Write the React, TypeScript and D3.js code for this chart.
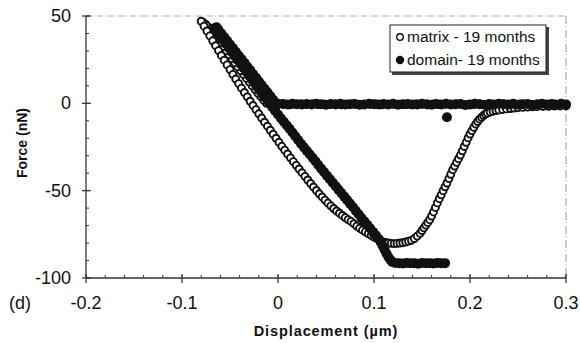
import * as d3 from 'd3';

// matrix - 19 months (open circles): approach baseline, contact rise, retract loop
const matrixX = [
  0.300, 0.294, 0.288, 0.282, 0.276, 0.270, 0.264, 0.258, 0.252, 0.246, 0.240, 0.234, 0.228, 0.222,
  0.216, 0.210, 0.204, 0.198, 0.192, 0.186, 0.180, 0.174, 0.168, 0.162, 0.156, 0.150, 0.144, 0.138,
  0.132, 0.126, 0.120, 0.114, 0.108, 0.102, 0.096, 0.090, 0.084, 0.078, 0.072, 0.066, 0.060, 0.054,
  0.048, 0.042, 0.036, 0.030, 0.024, 0.018, 0.012, 0.006, 0.000, -0.006, -0.012,
  -0.015, -0.018, -0.021, -0.024, -0.027, -0.030, -0.033, -0.036, -0.039, -0.042, -0.045, -0.048,
  -0.051, -0.054, -0.057, -0.060, -0.063, -0.066, -0.069, -0.072, -0.075, -0.078, -0.080,
  -0.077, -0.074, -0.071, -0.068, -0.065, -0.062, -0.059, -0.056, -0.053, -0.050, -0.047, -0.044,
  -0.041, -0.038, -0.035, -0.032, -0.029, -0.026, -0.023, -0.020, -0.017, -0.014, -0.011, -0.008,
  -0.005, -0.002, 0.001, 0.004, 0.007, 0.010, 0.013, 0.016, 0.019, 0.022, 0.025, 0.028, 0.031,
  0.034, 0.037, 0.040, 0.043, 0.046, 0.049, 0.052, 0.055, 0.058, 0.061, 0.064, 0.067, 0.070, 0.073,
  0.076, 0.079, 0.082, 0.085, 0.088, 0.091, 0.094, 0.097, 0.100, 0.103, 0.106, 0.109, 0.112, 0.115,
  0.118, 0.121, 0.124, 0.127, 0.130, 0.133, 0.136, 0.139, 0.142, 0.145, 0.148, 0.150, 0.152, 0.154,
  0.156, 0.158, 0.160, 0.162, 0.164, 0.166, 0.168, 0.170, 0.172, 0.174, 0.176, 0.178, 0.180, 0.182,
  0.184, 0.186, 0.188, 0.190, 0.192, 0.194, 0.196, 0.198, 0.200, 0.202, 0.204, 0.206, 0.208, 0.210,
  0.212, 0.214, 0.216, 0.218, 0.221, 0.224, 0.227, 0.230, 0.234, 0.238, 0.242, 0.246, 0.250, 0.255,
  0.260, 0.265, 0.270, 0.276, 0.282, 0.288, 0.294, 0.300,
];
const matrixY = [
  -0.5, -0.8, -0.3, -0.6, -0.9, -0.4, -0.6, -0.7, -0.3, -0.5, -0.8, -0.4, -0.6, -0.5,
  -0.7, -0.3, -0.6, -0.8, -0.5, -0.4, -0.7, -0.5, -0.6, -0.3, -0.8, -0.5, -0.4, -0.6,
  -0.7, -0.5, -0.3, -0.6, -0.8, -0.4, -0.5, -0.7, -0.6, -0.3, -0.5, -0.8, -0.4, -0.6,
  -0.5, -0.7, -0.4, -0.6, -0.3, -0.5, -0.8, -0.4, -0.6, -0.3, 0.0,
  1.8, 3.9, 5.9, 8.0, 10.1, 12.3, 14.4, 16.6, 18.8, 21.0, 23.3, 25.6,
  27.9, 30.2, 32.5, 34.8, 37.1, 39.4, 41.6, 43.5, 45.1, 46.3, 47.0,
  44.2, 41.4, 38.6, 35.8, 33.0, 30.2, 27.4, 24.7, 22.0, 19.3, 16.6, 13.9,
  11.3, 8.7, 6.2, 3.7, 1.2, -1.2, -3.6, -6.0, -8.4, -10.8, -13.1, -15.4,
  -17.7, -20.0, -22.3, -24.6, -26.8, -29.0, -31.2, -33.4, -35.5, -37.6, -39.7, -41.8, -43.9,
  -45.9, -47.9, -49.9, -51.8, -53.6, -55.4, -57.1, -58.7, -60.2, -61.6, -62.9, -64.2, -65.4, -66.6,
  -67.6, -68.9, -70.3, -71.5, -72.6, -73.6, -74.6, -75.6, -76.6, -77.5, -78.4, -79.3, -79.7, -80.0,
  -80.2, -80.3, -80.2, -80.0, -79.8, -79.4, -78.9, -78.4, -77.4, -76.0, -74.4, -72.8, -71.3, -69.7,
  -68.2, -66.6, -64.5, -62.2, -59.6, -57.0, -54.6, -52.4, -50.0, -47.8, -45.6, -43.1, -40.6, -38.0,
  -35.9, -33.8, -31.7, -29.6, -27.2, -24.7, -22.3, -19.8, -17.6, -15.6, -13.7, -11.9, -10.4, -9.1,
  -8.0, -7.0, -6.2, -5.6, -5.0, -4.5, -4.1, -3.8, -3.5, -3.2, -3.0, -2.7, -2.5, -2.3,
  -2.1, -2.0, -1.9, -1.8, -1.7, -1.6, -1.5, -1.5,
];

// domain - 19 months (filled circles)
const domainX = [
  0.300, 0.295, 0.290, 0.285, 0.280, 0.275, 0.270, 0.265, 0.260, 0.255, 0.250, 0.245, 0.240, 0.235,
  0.230, 0.225, 0.220, 0.215, 0.210, 0.205, 0.200, 0.195, 0.190, 0.185, 0.180, 0.175, 0.170, 0.165,
  0.160, 0.155, 0.150, 0.145, 0.140, 0.135, 0.130, 0.125, 0.120, 0.115, 0.110, 0.105, 0.100, 0.095,
  0.090, 0.085, 0.080, 0.075, 0.070, 0.065, 0.060, 0.055, 0.050, 0.045, 0.040, 0.035, 0.030, 0.025,
  0.020, 0.015, 0.010, 0.005, 0.000, -0.002,
  -0.005, -0.008, -0.011, -0.014, -0.017, -0.020, -0.023, -0.026, -0.029, -0.032, -0.035, -0.038,
  -0.041, -0.044, -0.047, -0.050, -0.053, -0.056, -0.059, -0.062, -0.064, -0.066,
  -0.063, -0.060, -0.057, -0.054, -0.051, -0.048, -0.045, -0.042, -0.039, -0.036, -0.033, -0.030,
  -0.027, -0.024, -0.021, -0.018, -0.015, -0.012, -0.009, -0.006, -0.003, 0.000, 0.003, 0.006,
  0.009, 0.012, 0.015, 0.018, 0.021, 0.024, 0.027, 0.030, 0.033, 0.036, 0.039, 0.042, 0.045, 0.048,
  0.051, 0.054, 0.057, 0.060, 0.063, 0.066, 0.069, 0.072, 0.075, 0.078, 0.081, 0.084, 0.087, 0.090,
  0.093, 0.096, 0.099, 0.102, 0.105, 0.107, 0.109, 0.111, 0.113, 0.115, 0.117, 0.119, 0.122,
  0.126, 0.130, 0.134, 0.138, 0.142, 0.146, 0.150, 0.154, 0.158, 0.162, 0.166, 0.170, 0.174,
  0.176,
];
const domainY = [
  -0.6, -0.3, -0.8, -0.4, -0.7, -0.2, -0.6, -0.9, -0.4, -0.5, -0.8, -0.3, -0.6, -0.5,
  -0.2, -0.7, -0.4, -0.8, -0.5, -0.3, -0.6, -0.9, -0.4, -0.5, -0.7, -0.2, -0.6, -0.4,
  -0.8, -0.5, -0.3, -0.6, -0.7, -0.4, -0.5, -0.8, -0.3, -0.6, -0.4, -0.7, -0.5, -0.2,
  -0.6, -0.8, -0.4, -0.5, -0.7, -0.3, -0.6, -0.4, -0.8, -0.5, -0.2, -0.6, -0.4, -0.7,
  -0.5, -0.3, -0.6, -0.4, -0.2, 0.0,
  2.1, 4.2, 6.3, 8.4, 10.5, 12.6, 14.7, 16.8, 19.0, 21.1, 23.2, 25.3,
  27.4, 29.5, 31.6, 33.7, 35.8, 37.9, 40.0, 42.1, 43.5, 43.0,
  40.5, 38.2, 36.0, 33.8, 31.5, 29.3, 27.0, 24.8, 22.5, 20.3, 18.0, 15.8,
  13.5, 11.3, 9.0, 6.8, 4.5, 2.3, 0.0, -2.2, -4.3, -6.4, -8.5, -10.5,
  -12.5, -14.6, -16.7, -18.8, -21.0, -23.1, -25.2, -27.2, -29.2, -31.2, -33.2, -35.3, -37.4, -39.4,
  -41.4, -43.4, -45.4, -47.4, -49.4, -51.4, -53.4, -55.4, -57.4, -59.4, -61.5, -63.5, -65.6, -67.6,
  -69.6, -71.6, -73.6, -75.6, -77.7, -79.5, -81.6, -83.8, -86.0, -88.0, -89.6, -90.8, -91.4,
  -91.5, -91.7, -91.4, -91.6, -91.5, -91.8, -91.4, -91.6, -91.5, -91.7, -91.4, -91.6, -91.5,
  -8.0,
];

const xTicks = [-0.2, -0.1, 0, 0.1, 0.2, 0.3];
const yTicks = [50, 0, -50, -100];
const legendLabels = ['matrix - 19 months', 'domain- 19 months'];

const W = 580;
const H = 343;
const font = '"Liberation Sans", Arial, sans-serif';

export default function App() {
  const x = d3.scaleLinear().domain([-0.2, 0.3]).range([86, 566]);
  const y = d3.scaleLinear().domain([-100, 50]).range([278, 16]);
  const xMinor = d3.range(-0.2, 0.3001, 0.02);
  const yMinor = d3.range(-100, 50.001, 10);
  const fmt = (v: number) => (v === 0 ? '0' : d3.format('.1f')(v).replace('−', '-'));
  const n = Math.min(matrixX.length, matrixY.length);
  const m = Math.min(domainX.length, domainY.length);

  return (
    <svg width={W} height={H} style={{ position: 'absolute', left: 0, top: 0, background: '#fff' }}>
      {/* faint frame on top and right */}
      <line x1={86} x2={566} y1={16} y2={16} stroke="#aaa" strokeWidth={1} strokeDasharray="6 2 1 2" />
      <line x1={566} x2={566} y1={16} y2={278} stroke="#999" strokeWidth={1} strokeDasharray="8 2 1 3" />

      {/* axes */}
      <line x1={86} x2={566} y1={278} y2={278} stroke="#333" strokeWidth={1.3} />
      <line x1={86} x2={86} y1={16} y2={278} stroke="#333" strokeWidth={1.3} />
      {xMinor.map((t, i) => (
        <line key={'xm' + i} x1={x(t)} x2={x(t)} y1={275} y2={278} stroke="#333" strokeWidth={1} />
      ))}
      {yMinor.map((t, i) => (
        <line key={'ym' + i} x1={86} x2={89} y1={y(t)} y2={y(t)} stroke="#333" strokeWidth={1} />
      ))}
      {xTicks.map((t) => (
        <g key={'xt' + t}>
          <line x1={x(t)} x2={x(t)} y1={274} y2={283} stroke="#333" strokeWidth={1.2} />
          <text x={x(t)} y={309} textAnchor="middle" fontFamily={font} fontSize={18} fill="#111">
            {fmt(t)}
          </text>
        </g>
      ))}
      {yTicks.map((t) => (
        <g key={'yt' + t}>
          <line x1={82} x2={91} y1={y(t)} y2={y(t)} stroke="#333" strokeWidth={1.2} />
          <text x={71} y={y(t) + 6} textAnchor="end" fontFamily={font} fontSize={18} fill="#111">
            {t}
          </text>
        </g>
      ))}

      <text x={9} y={309} fontFamily={font} fontSize={18} fill="#111">(d)</text>
      <text x={326} y={336} textAnchor="middle" fontFamily={font} fontSize={14.5} fontWeight="bold" fill="#111"
        style={{ letterSpacing: '0.9px' }}>
        Displacement (µm)
      </text>
      <g transform="translate(27,143) rotate(-90)">
        <text x={0} y={0} textAnchor="middle" fontFamily={font} fontSize={14} fontWeight="bold" fill="#111">
          Force (nN)
        </text>
      </g>

      {/* data */}
      <g>
        {matrixX.slice(0, n).map((v, i) => (
          <circle key={'m' + i} cx={x(v)} cy={y(matrixY[i])} r={3.5} fill="#fff" stroke="#111" strokeWidth={1.9} />
        ))}
      </g>
      <g>
        {domainX.slice(0, m).map((v, i) => (
          <circle key={'d' + i} cx={x(v)} cy={y(domainY[i])} r={5} fill="#111" />
        ))}
      </g>

      {/* legend */}
      <rect x={392} y={27} width={157} height={48} fill="#444" />
      <rect x={390} y={25} width={156} height={47} fill="#fff" stroke="#222" strokeWidth={1} />
      <circle cx={400} cy={37} r={3.3} fill="#fff" stroke="#111" strokeWidth={1.4} />
      <text x={407} y={42} fontFamily={font} fontSize={15.5} fill="#111">{legendLabels[0]}</text>
      <circle cx={400} cy={60} r={4.2} fill="#111" />
      <text x={407} y={65} fontFamily={font} fontSize={15.5} fill="#111">{legendLabels[1]}</text>
    </svg>
  );
}
